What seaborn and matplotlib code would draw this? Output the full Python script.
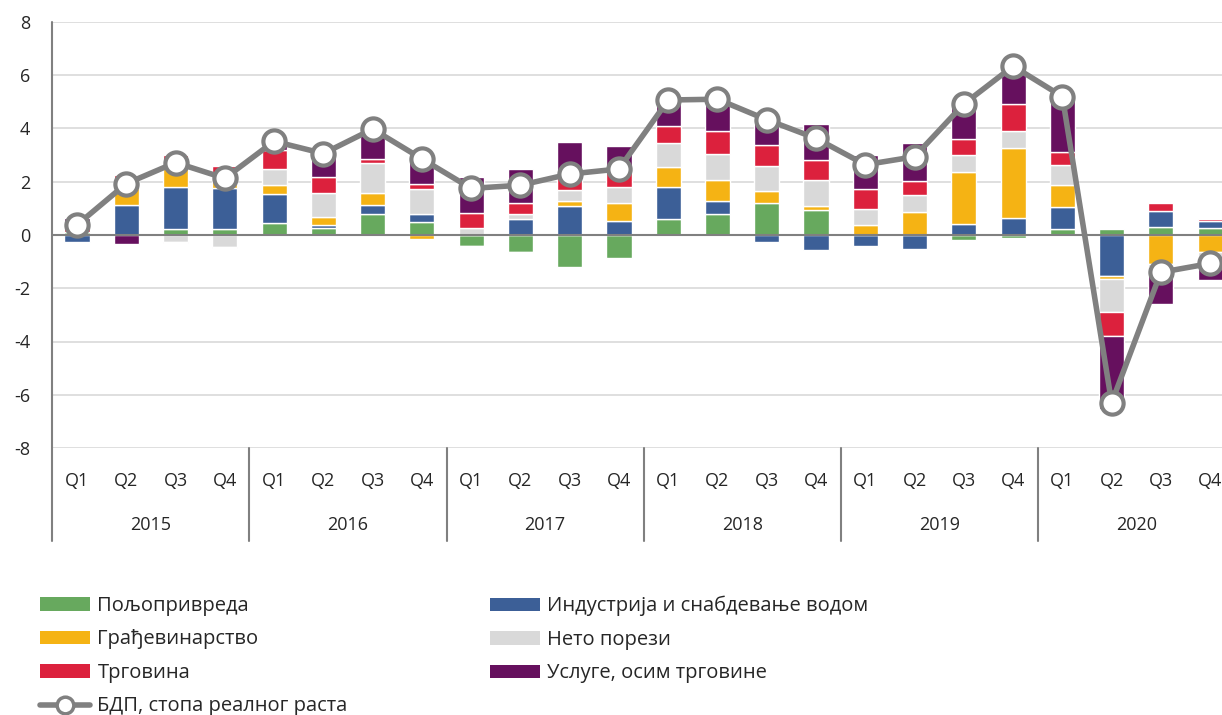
import numpy as np
import pandas as pd
import seaborn as sns
import matplotlib.pyplot as plt
from matplotlib.patches import Patch
from matplotlib.lines import Line2D

# quarters and years
quarters = ['Q1', 'Q2', 'Q3', 'Q4'] * 6
years = ['2015', '2016', '2017', '2018', '2019', '2020']

# contributions to real GDP growth, p.p.
agri = [0.10, 0.00, 0.23, 0.23, 0.44, 0.28, 0.79, 0.48, -0.40, -0.63, -1.19, -0.88,
        0.60, 0.79, 1.19, 0.94, 0.00, 0.00, -0.19, -0.12, 0.21, 0.23, 0.29, 0.25]
industry = [-0.25, 1.13, 1.56, 1.52, 1.09, 0.10, 0.34, 0.31, 0.00, 0.59, 1.09, 0.54,
            1.22, 0.50, -0.25, -0.57, -0.40, -0.52, 0.43, 0.62, 0.86, -1.55, 0.63, 0.29]
construction = [0.00, 0.63, 0.93, 0.55, 0.35, 0.31, 0.44, -0.15, -0.05, -0.03, 0.19, 0.68,
                0.72, 0.78, 0.48, 0.15, 0.38, 0.88, 1.95, 2.64, 0.82, -0.09, -1.09, -0.65]
net_taxes = [0.00, 0.20, -0.25, -0.44, 0.59, 0.88, 1.13, 0.94, 0.28, 0.20, 0.42, 0.58,
             0.92, 0.98, 0.93, 0.96, 0.60, 0.63, 0.62, 0.63, 0.73, -1.26, -0.12, -0.35]
trade = [0.40, 0.30, 0.30, 0.30, 0.73, 0.59, 0.16, 0.18, 0.54, 0.43, 0.50, 0.59,
         0.63, 0.87, 0.79, 0.75, 0.74, 0.50, 0.62, 1.03, 0.50, -0.91, 0.28, 0.06]
services = [0.13, -0.35, -0.06, -0.03, 0.31, 0.92, 1.09, 1.11, 1.36, 1.27, 1.28, 0.97,
            0.98, 1.18, 1.17, 1.38, 1.30, 1.45, 1.48, 1.53, 2.13, -2.74, -1.40, -0.69]
gdp = [0.38, 1.93, 2.72, 2.13, 3.52, 3.06, 3.98, 2.86, 1.75, 1.87, 2.29, 2.48,
       5.07, 5.10, 4.33, 3.63, 2.64, 2.94, 4.92, 6.34, 5.20, -6.30, -1.40, -1.07]

series = {
    'Пољопривреда': (agri, '#67a95e'),
    'Индустрија и снабдевање водом': (industry, '#3c5f97'),
    'Грађевинарство': (construction, '#f5b314'),
    'Нето порези': (net_taxes, '#d9d9d9'),
    'Трговина': (trade, '#dc213d'),
    'Услуге, осим трговине': (services, '#66105e'),
}

sns.set_theme(style='white')
plt.rcParams['font.family'] = ['Open Sans', 'DejaVu Sans']
plt.rcParams['axes.unicode_minus'] = False

fig = plt.figure(figsize=(12.22, 7.15), dpi=100)
ax = fig.add_axes([52.4 / 1222, 267 / 715, 1182.4 / 1222, 426 / 715])

x = np.arange(len(gdp))
pos_bottom = np.zeros(len(x))
neg_bottom = np.zeros(len(x))
for name, (vals, color) in series.items():
    v = np.array(vals)
    bottom = np.where(v >= 0, pos_bottom, neg_bottom)
    ax.bar(x, v, bottom=bottom, width=0.51, color=color, zorder=2)
    pos_bottom += np.where(v >= 0, v, 0)
    neg_bottom += np.where(v < 0, v, 0)

df = pd.DataFrame({'x': x, 'gdp': gdp})
sns.lineplot(data=df, x='x', y='gdp', ax=ax, color='#808080', linewidth=4,
             marker='o', markersize=16, markerfacecolor='white',
             markeredgecolor='#808080', markeredgewidth=3, zorder=4)

ax.set_xlim(-0.5, len(x) - 0.5)
ax.set_ylim(-8, 8)
ax.set_yticks(np.arange(-8, 9, 2))
ax.yaxis.grid(True, color='#d9d9d9', linewidth=1.2, zorder=0)
ax.axhline(0, color='#808080', linewidth=1.5, zorder=3)
for s in ax.spines.values():
    s.set_visible(False)
ax.set_xticks(x)
ax.set_xticklabels(quarters)
ax.tick_params(axis='x', length=0, pad=17, labelsize=13, labelcolor='#262626')
ax.tick_params(axis='y', length=0, pad=16, labelsize=13, labelcolor='#262626')
ax.set_xlabel('')
ax.set_ylabel('')

# left axis line and year separators
fig.add_artist(Line2D([52.4 / 1222, 52.4 / 1222], [1 - 22 / 715, 1 - 541 / 715],
                      color='#808080', linewidth=1.5))
for k in range(1, 6):
    xb = 52.4 + k * 4 * 49.27
    fig.add_artist(Line2D([xb / 1222, xb / 1222], [1 - 448 / 715, 1 - 541 / 715],
                          color='#808080', linewidth=1.5))
for i, yr in enumerate(years):
    ax.text(1.5 + 4 * i, -0.181, yr, transform=ax.get_xaxis_transform(),
            ha='center', va='center', fontsize=13, color='#262626')

names = list(series.keys())
h = {n: Patch(facecolor=series[n][1], edgecolor='none') for n in names}
gdp_handle = Line2D([], [], color='#808080', linewidth=4, marker='o', markersize=12,
                    markerfacecolor='white', markeredgecolor='#808080', markeredgewidth=2.5)

left_names = ['Пољопривреда', 'Грађевинарство', 'Трговина']
right_names = ['Индустрија и снабдевање водом', 'Нето порези', 'Услуге, осим трговине']
leg_kw = dict(frameon=False, fontsize=14.5, handlelength=2.5, handleheight=0.65,
              handletextpad=0.35, labelspacing=0.67, borderaxespad=0, borderpad=0,
              labelcolor='#262626')
fig.legend([h[n] for n in left_names] + [gdp_handle], left_names + ['БДП, стопа реалног раста'],
           loc='upper left', bbox_to_anchor=(40 / 1222, 1 - 596 / 715), **leg_kw)
fig.legend([h[n] for n in right_names], right_names,
           loc='upper left', bbox_to_anchor=(490 / 1222, 1 - 596 / 715), **leg_kw)

fig.savefig('out.png', dpi=100)
